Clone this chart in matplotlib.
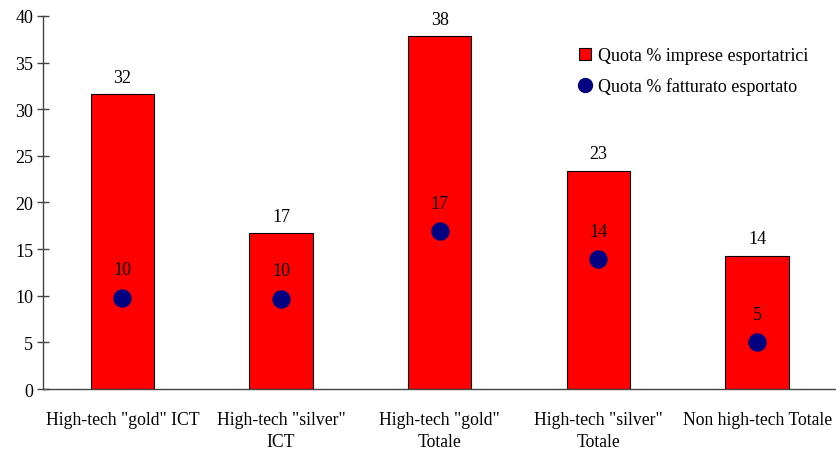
import matplotlib
matplotlib.use("Agg")
import matplotlib.pyplot as plt
from matplotlib.lines import Line2D
import numpy as np

categories = ['High-tech "gold" ICT', 'High-tech "silver"\nICT', 'High-tech "gold"\nTotale',
              'High-tech "silver"\nTotale', 'Non high-tech Totale']
quota_imprese = [31.6, 16.7, 37.8, 23.4, 14.3]
quota_fatturato = [9.8, 9.7, 16.9, 13.9, 5.0]
yticks = [0, 5, 10, 15, 20, 25, 30, 35, 40]

plt.rcParams['font.family'] = ['Liberation Serif', 'DejaVu Serif']
plt.rcParams['font.size'] = 13

fig = plt.figure(figsize=(8.37, 4.52), dpi=100)
ax = fig.add_axes([0.0514, 0.137, 0.948, 0.8256])

x = np.arange(len(categories))
ax.bar(x, quota_imprese, width=0.4, color='#ff0000', edgecolor='black', linewidth=0.8, zorder=2)
ax.scatter(x, quota_fatturato, s=150, color='#000080', zorder=3)

for xi, v in zip(x, quota_imprese):
    ax.annotate(f'{v:.0f}', (xi, v), xytext=(0, 6), textcoords='offset points',
                ha='center', va='bottom', fontsize=13)
for xi, v in zip(x, quota_fatturato):
    ax.annotate(f'{v:.0f}', (xi, v), xytext=(0, 14), textcoords='offset points',
                ha='center', va='bottom', fontsize=13)

ax.set_xlim(-0.5, 4.5)
ax.set_ylim(0, 40)
ax.set_yticks(yticks)
ax.set_xticks(x)
ax.set_xticklabels(categories, fontsize=12.7, linespacing=1.4)
ax.tick_params(axis='x', length=0, pad=16)
ax.tick_params(axis='y', direction='inout', length=8, width=1, color='#444444', pad=3)

for s in ['top', 'right']:
    ax.spines[s].set_visible(False)
for s in ['left', 'bottom']:
    ax.spines[s].set_color('#444444')
    ax.spines[s].set_linewidth(1)

handles = [
    Line2D([], [], marker='s', linestyle='none', markersize=9, markerfacecolor='#ff0000',
           markeredgecolor='black', markeredgewidth=0.8),
    Line2D([], [], marker='o', linestyle='none', markersize=10, markerfacecolor='#000080',
           markeredgecolor='#000080'),
]
ax.legend(handles, ['Quota % imprese esportatrici', 'Quota % fatturato esportato'],
          loc='upper left', bbox_to_anchor=(0.649, 0.96), frameon=False, fontsize=13,
          handletextpad=0.1, labelspacing=0.75, handlelength=1.2)

fig.savefig('out.png', dpi=100)
